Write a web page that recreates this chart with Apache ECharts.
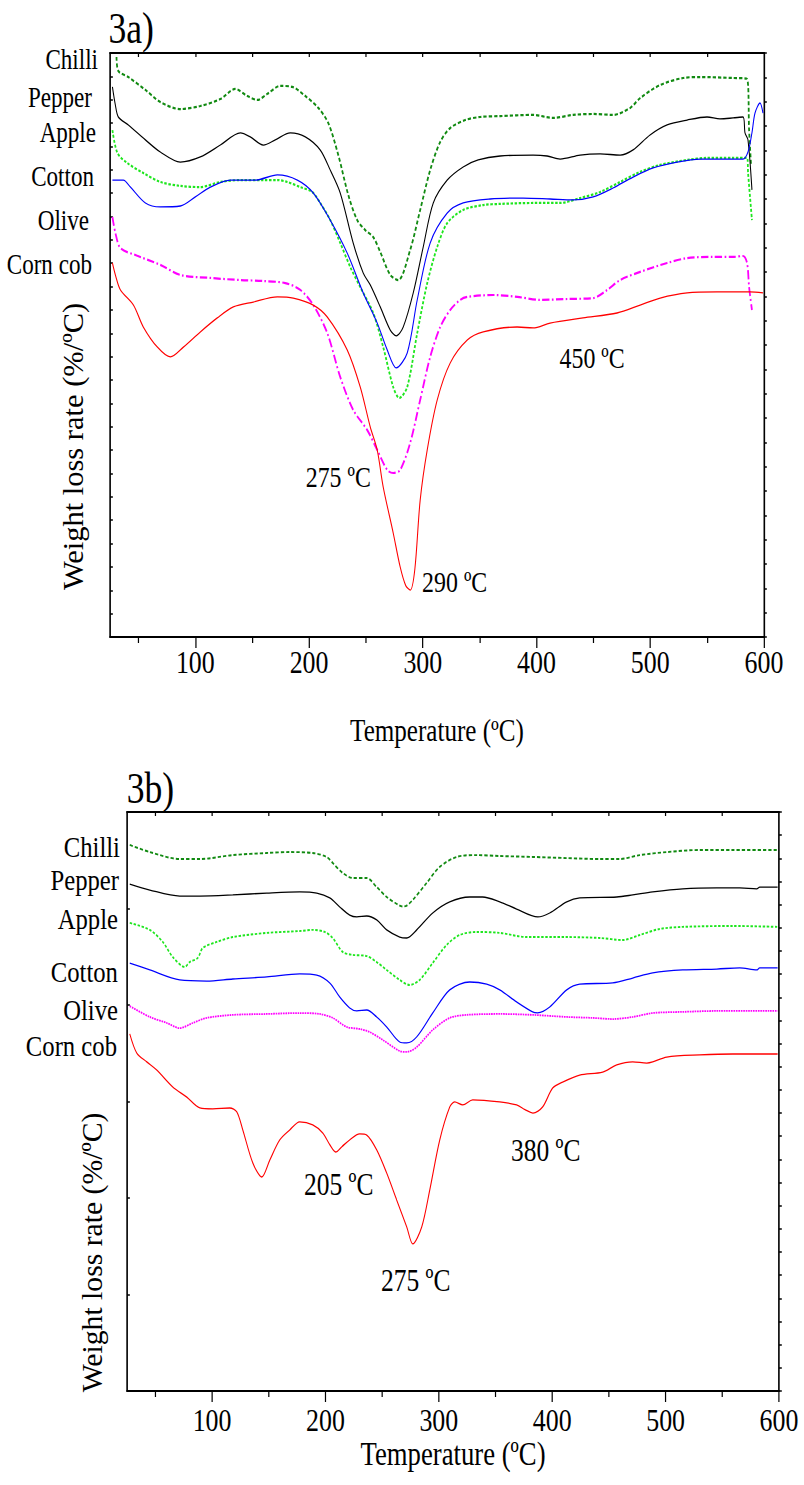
<!DOCTYPE html>
<html>
<head>
<meta charset="utf-8">
<script src="https://cdn.jsdelivr.net/npm/echarts@6/dist/echarts.min.js"></script>
<style>
html,body{margin:0;padding:0;background:#fff;}
#frame{width:804px;height:1485px;overflow:hidden;}
/* the figure's lettering is a narrow serif: draw wide, then compress horizontally */
#chart{width:993px;height:1485px;transform:scaleX(0.809668);transform-origin:0 0;}
</style>
</head>
<body>
<div id="frame"><div id="chart"></div></div>
<script>
// ---- data -------------------------------------------------------------
const samples = ['Chilli', 'Pepper', 'Apple', 'Cotton', 'Olive', 'Corn cob'];
const tempLabels = [100, 200, 300, 400, 500, 600];
const tempMinor = [50, 150, 250, 350, 450, 550];
const tempTop = [50, 100, 150, 200, 250, 300, 350, 400, 450, 500, 550];

// 3a) DTG curves, [temperature °C, offset weight loss rate]
const chilliA = [[30.7,24.83],[32.3,24.23],[41.1,23.97],[56.1,23.42],[69.2,22.90],[86.8,22.60],[104.4,22.73],[122.0,23.03],[135.1,23.46],[145.7,23.16],[154.5,22.99],[163.3,23.25],[174.7,23.59],[185.2,23.55],[196.7,23.16],[208.1,22.65],[216.9,22.00],[225.7,20.63],[234.5,18.92],[242.3,17.85],[249.4,17.42],[256.4,17.12],[262.6,16.48],[271.4,15.50],[278.4,15.28],[288.9,16.57],[297.7,18.28],[306.5,19.99],[315.3,21.19],[324.1,21.79],[337.3,22.13],[350.4,22.26],[368.0,22.30],[397.0,22.35],[414.6,22.22],[432.2,22.35],[449.8,22.39],[467.3,22.35],[482.3,22.65],[491.1,23.07],[508.7,23.63],[528.9,23.93],[543.8,23.97],[572.8,23.93],[585.1,23.89],[586.9,21.70],[588.6,20.21]];
const pepperA = [[27.1,23.55],[29.7,22.77],[32.3,22.26],[41.1,21.92],[56.1,21.28],[69.2,20.76],[86.8,20.33],[104.4,20.55],[122.0,21.06],[139.6,21.58],[148.3,21.41],[159.8,21.06],[170.3,21.28],[183.5,21.58],[196.7,21.41],[209.8,20.85],[218.6,19.99],[227.4,19.01],[238.8,16.87],[247.6,15.58],[253.8,15.07],[262.6,14.13],[271.4,13.14],[276.7,12.89],[282.8,13.27],[291.6,14.73],[300.4,16.70],[309.2,18.58],[321.5,19.56],[335.5,20.12],[348.7,20.42],[368.0,20.59],[397.0,20.63],[409.3,20.59],[420.7,20.46],[438.3,20.63],[455.9,20.68],[473.5,20.63],[484.9,20.85],[499.8,21.49],[514.8,21.92],[532.4,22.13],[549.9,22.26],[561.3,22.18],[572.8,22.22],[581.5,22.26],[583.3,21.58],[585.9,21.28],[589.4,19.14]];
const appleA = [[27.1,21.70],[31.5,20.72],[40.2,20.29],[54.3,19.86],[69.2,19.48],[86.8,19.31],[104.4,19.26],[122.0,19.48],[139.6,19.56],[159.8,19.56],[172.1,19.56],[180.8,19.48],[192.3,19.26],[202.8,19.05],[209.8,18.58],[218.6,17.85],[227.4,16.87],[236.2,15.84],[245.0,14.98],[256.4,13.87],[265.2,12.41],[274.0,10.70],[279.3,10.23],[286.3,10.70],[295.1,13.01],[303.9,15.15],[312.7,16.70],[321.5,17.72],[335.5,18.28],[353.1,18.49],[368.0,18.54],[397.0,18.58],[420.7,18.58],[438.3,18.79],[455.9,19.05],[473.5,19.48],[491.1,19.91],[508.7,20.21],[532.4,20.42],[549.9,20.51],[572.8,20.51],[585.1,20.51],[586.0,19.86],[589.4,17.85]];
const cottonA = [[27.1,19.56],[36.7,19.56],[42.9,19.26],[56.1,18.58],[69.2,18.41],[86.8,18.45],[100.0,18.84],[113.2,19.26],[130.8,19.56],[152.8,19.56],[172.1,19.78],[189.7,19.56],[203.7,19.01],[218.6,17.85],[233.5,16.44],[247.6,14.73],[259.9,13.44],[268.7,12.29],[276.6,11.52],[286.3,12.16],[295.1,14.43],[306.5,16.87],[321.5,18.15],[335.5,18.58],[359.2,18.75],[388.2,18.79],[411.9,18.75],[432.2,18.71],[449.8,18.84],[467.3,19.22],[484.9,19.69],[502.5,20.08],[523.6,20.33],[543.8,20.46],[572.8,20.46],[581.5,20.46],[585.9,20.76],[589.4,21.58],[592.1,22.43],[596.5,22.86],[599.1,22.43]];
const oliveA = [[27.1,17.98],[29.7,17.30],[34.1,16.65],[47.3,16.35],[69.2,15.93],[86.8,15.50],[113.2,15.37],[139.6,15.28],[159.8,15.24],[179.1,15.15],[192.3,14.86],[203.7,14.21],[216.0,13.01],[227.4,11.13],[238.8,9.72],[251.1,8.86],[259.9,8.01],[268.7,7.15],[274.0,7.02],[280.1,7.15],[288.9,8.31],[297.7,10.15],[306.5,11.99],[315.3,13.27],[324.1,14.00],[332.9,14.43],[339.1,14.56],[361.9,14.64],[383.1,14.56],[403.3,14.43],[427.0,14.47],[449.8,14.51],[462.2,14.86],[473.5,15.28],[491.1,15.63],[514.8,16.01],[532.4,16.22],[555.2,16.27],[572.8,16.27],[581.5,16.31],[585.1,16.01],[586.9,14.98],[589.4,14.00]];
const cornA = [[27.1,16.01],[29.7,15.50],[34.1,14.86],[45.6,14.21],[54.3,13.27],[66.6,12.41],[78.0,11.99],[89.5,12.41],[104.4,13.06],[119.3,13.66],[133.4,14.13],[151.0,14.34],[172.1,14.56],[186.1,14.51],[203.7,14.21],[216.0,13.70],[233.5,12.29],[245.0,10.70],[253.8,8.99],[259.9,8.01],[265.2,6.42],[274.0,4.45],[280.1,3.00],[285.0,2.20],[289.0,2.01],[293.0,2.90],[297.7,5.86],[303.9,8.01],[312.7,10.15],[324.1,11.73],[339.1,12.71],[353.1,13.06],[382.9,13.27],[397.0,13.23],[411.9,13.44],[440.9,13.66],[470.8,13.87],[491.1,14.21],[508.7,14.51],[532.4,14.73],[558.7,14.77],[587.7,14.77],[599.1,14.73]];

// 3b) DTG curves
const chilliB = [[27.4,23.58],[45.1,23.27],[71.5,22.97],[89.2,22.97],[118.3,23.14],[148.3,23.23],[168.5,23.27],[188.8,23.23],[201.1,23.06],[206.4,22.80],[215.2,22.37],[224.0,22.15],[236.4,22.15],[245.2,21.76],[254.0,21.33],[265.5,20.96],[268.6,20.92],[271.7,20.96],[277.0,21.20],[289.3,21.94],[300.8,22.63],[315.8,23.06],[333.4,23.14],[353.7,23.10],[382.8,23.06],[412.8,23.01],[441.9,22.97],[459.5,22.97],[477.2,23.14],[501.0,23.27],[530.1,23.36],[559.2,23.36],[598.8,23.36]];
const pepperB = [[27.4,21.89],[45.1,21.63],[71.5,21.37],[89.2,21.37],[118.3,21.42],[148.3,21.50],[177.4,21.55],[192.3,21.50],[203.8,21.29],[212.6,20.90],[221.4,20.55],[227.6,20.47],[236.4,20.51],[245.2,20.34],[254.0,19.91],[265.5,19.60],[271.7,19.56],[280.5,19.91],[294.6,20.64],[309.6,21.12],[327.2,21.33],[338.6,21.33],[353.7,21.12],[368.6,20.81],[387.2,20.47],[397.8,20.64],[412.8,21.12],[424.3,21.29],[456.9,21.33],[471.0,21.42],[488.6,21.55],[515.1,21.68],[545.1,21.72],[565.4,21.72],[580.4,21.68],[583.0,21.76],[598.8,21.76]];
const appleB = [[27.4,20.21],[45.1,19.91],[56.5,19.39],[65.3,18.74],[75.9,18.31],[80.3,18.52],[87.4,18.70],[91.8,19.13],[104.1,19.39],[118.3,19.60],[148.3,19.78],[177.4,19.86],[188.8,19.91],[199.4,19.82],[206.4,19.56],[215.2,18.96],[224.0,18.83],[236.4,18.78],[245.2,18.52],[254.0,18.18],[265.5,17.75],[274.3,17.53],[283.1,17.75],[294.6,18.48],[306.9,19.26],[318.4,19.69],[333.4,19.82],[353.7,19.78],[377.5,19.60],[412.8,19.60],[441.9,19.56],[462.2,19.47],[477.2,19.69],[494.8,19.95],[515.1,20.04],[559.2,20.08],[598.8,20.04]];
const cottonB = [[27.4,18.48],[45.1,18.18],[71.5,17.75],[95.3,17.70],[118.3,17.79],[148.3,17.88],[177.4,18.01],[192.3,17.96],[203.8,17.62],[212.6,17.01],[221.4,16.54],[227.6,16.41],[236.4,16.45],[245.2,16.15],[254.0,15.72],[265.5,15.07],[271.7,15.03],[280.5,15.29],[294.6,16.32],[309.6,17.32],[327.2,17.66],[342.2,17.57],[353.7,17.32],[368.6,16.80],[382.7,16.37],[387.2,16.33],[397.8,16.58],[412.8,17.32],[424.3,17.57],[453.4,17.62],[471.0,17.83],[488.6,18.05],[515.1,18.18],[545.1,18.22],[565.4,18.27],[580.4,18.18],[583.0,18.27],[598.8,18.27]];
const oliveB = [[27.4,16.62],[45.1,16.15],[60.1,15.89],[71.5,15.67],[83.0,15.89],[95.3,16.11],[118.3,16.24],[148.3,16.28],[177.4,16.32],[195.0,16.28],[206.4,16.11],[218.7,15.72],[230.2,15.63],[239.0,15.50],[250.5,15.16],[265.5,14.68],[271.7,14.64],[280.5,14.85],[294.6,15.59],[309.6,16.11],[324.6,16.24],[353.7,16.28],[382.8,16.24],[412.8,16.15],[435.7,16.11],[453.4,16.06],[471.0,16.15],[488.6,16.32],[515.1,16.37],[545.1,16.41],[598.8,16.41]];
const cornB = [[27.4,15.42],[33.6,14.59],[42.4,14.21],[51.2,13.86],[65.3,13.13],[77.7,12.69],[89.2,12.22],[100.6,12.18],[115.6,12.22],[121.8,12.05],[127.1,11.27],[135.9,9.85],[143.8,9.24],[150.9,9.97],[159.7,10.84],[168.5,11.27],[177.3,11.62],[188.8,11.49],[197.6,11.14],[204.0,10.62],[209.0,10.32],[214.5,10.55],[221.3,10.84],[230.2,11.10],[236.4,11.05],[245.2,10.41],[254.0,9.41],[262.8,8.25],[271.7,7.08],[277.0,6.35],[284.9,7.08],[292.0,8.68],[300.8,10.84],[309.6,12.26],[314.0,12.48],[321.1,12.35],[329.9,12.57],[353.7,12.48],[368.6,12.35],[376.0,12.15],[383.0,12.00],[391.5,12.26],[400.4,13.08],[409.2,13.34],[424.2,13.64],[444.5,13.77],[456.9,14.08],[471.0,14.21],[483.4,14.16],[488.6,14.21],[501.0,14.42],[530.1,14.51],[559.2,14.55],[598.8,14.55]];

// peak temperatures marked on the curves
const peakTextA = ['275 ºC', '290 ºC', '450 ºC'];
const peakAtA = [[274.0, 7.02], [289.0, 2.01], [450.0, 13.72]];
const peakTextB = ['205 ºC', '275 ºC', '380 ºC'];
const peakAtB = [[209.0, 10.32], [277.0, 6.35], [383.0, 12.00]];

// ---- layout & style ---------------------------------------------------
const FONT = "'Liberation Serif', 'Times New Roman', serif";
const BLACK = '#000';
const styles = [
  { color: '#118a11', width: 2.2, type: [4, 2.5] },   // Chilli
  { color: '#000000', width: 1.3, type: 'solid' },    // Pepper
  { color: '#1ee61e', width: 2.2, type: [3, 2] },     // Apple
  { color: '#0000ff', width: 1.3, type: 'solid' },    // Cotton
  { color: '#ff00ff', width: 2.2, type: [9, 3, 2, 3] }, // Olive
  { color: '#ff0000', width: 1.3, type: 'solid' }     // Corn cob
];
const stylesB = styles.map((s, i) => i === 4 ? { color: '#ff00ff', width: 1.8, type: [2, 1] } :
  (i === 0 || i === 2) ? Object.assign({}, s, { width: 1.9 }) : s);

const grids = [
  { left: 135.9, top: 53, width: 807.7, height: 584 },
  { left: 156.9, top: 812, width: 805.2, height: 579 }
];

function bottomAxis(g, nameGap, nameSize) {
  return [{
    type: 'value', gridIndex: g, position: 'bottom', min: 25, max: 600,
    name: 'Temperature (ºC)', nameLocation: 'middle', nameGap: nameGap,
    nameTextStyle: { fontFamily: FONT, fontSize: nameSize, color: BLACK, verticalAlign: 'middle' },
    axisLine: { show: true, onZero: false, lineStyle: { color: BLACK, width: 2 } },
    axisTick: { show: true, customValues: tempLabels, length: 11, inside: false, lineStyle: { color: BLACK, width: 1.5 } },
    axisLabel: { show: true, customValues: tempLabels, fontFamily: FONT, fontSize: 32, color: BLACK, margin: g === 0 ? 9 : 13 },
    splitLine: { show: false }
  }, {
    type: 'value', gridIndex: g, position: 'bottom', min: 25, max: 600,
    axisLine: { show: false },
    axisTick: { show: true, customValues: tempMinor, length: 6, inside: false, lineStyle: { color: BLACK, width: 1.5 } },
    axisLabel: { show: false }, splitLine: { show: false }
  }, {
    type: 'value', gridIndex: g, position: 'top', min: 25, max: 600,
    axisLine: { show: true, onZero: false, lineStyle: { color: BLACK, width: 2 } },
    axisTick: { show: true, customValues: tempTop, length: 4, inside: true, lineStyle: { color: BLACK, width: 1.5 } },
    axisLabel: { show: false }, splitLine: { show: false }
  }];
}

function sideAxis(g, pos, max, tick, inside, line) {
  return {
    type: 'value', gridIndex: g, position: pos, min: 0, max: max, interval: 1,
    axisLine: { show: line, onZero: false, lineStyle: { color: BLACK, width: 2 } },
    axisTick: { show: tick, inside: inside, length: 3.5, lineStyle: { color: BLACK, width: 1.5 } },
    axisLabel: { show: false }, splitLine: { show: false }
  };
}

const xAxis = bottomAxis(0, 94, 31).concat(bottomAxis(1, 62, 33));
const yAxis = [
  sideAxis(0, 'left', 25, true, true, true),    // 0: 3a values
  sideAxis(0, 'right', 24, true, false, true),  // 1: 3a right frame
  sideAxis(1, 'left', 25, false, true, true),   // 2: 3b values
  sideAxis(1, 'left', 6, true, true, false),    // 3: 3b left ticks
  sideAxis(1, 'right', 25, true, false, true)   // 4: 3b right frame
];

function curve(name, data, xi, yi, st, marks, markSize) {
  const s = {
    type: 'line', name: name, data: data, xAxisIndex: xi, yAxisIndex: yi,
    symbol: 'none', showSymbol: false, smooth: 0.3, silent: true,
    lineStyle: { color: st.color, width: st.width, type: st.type },
    emphasis: { disabled: true }, animation: false
  };
  if (marks) {
    s.markPoint = {
      symbol: 'circle', symbolSize: 0, silent: true, animation: false,
      itemStyle: { color: 'transparent' },
      label: { show: true, position: 'inside', formatter: '{b}', color: BLACK, fontFamily: FONT, fontSize: markSize },
      data: marks
    };
  }
  return s;
}

const seriesA = [chilliA, pepperA, appleA, cottonA, oliveA, cornA];
const seriesB = [chilliB, pepperB, appleB, cottonB, oliveB, cornB];

// label offsets from each marked point
const offA = [[-67.9, 4], [54.8, -8], [-1.6, 42]];
const offB = [[3.8, 32], [3.7, 36], [15.8, 37]];
const marksA = {
  4: [{ name: peakTextA[0], coord: peakAtA[0], label: { offset: offA[0] } }],
  5: [{ name: peakTextA[1], coord: peakAtA[1], label: { offset: offA[1] } },
      { name: peakTextA[2], coord: peakAtA[2], label: { offset: offA[2] } }]
};
const marksB = {
  5: peakTextB.map((t, i) => ({ name: t, coord: peakAtB[i], label: { offset: offB[i] } }))
};

const series = [];
seriesA.forEach((d, i) => series.push(curve(samples[i] + ' (3a)', d, 0, 0, styles[i], marksA[i], 29.5)));
seriesB.forEach((d, i) => series.push(curve(samples[i] + ' (3b)', d, 3, 2, stylesB[i], marksB[i], 31.5)));

// panel captions, sample names, rotated axis titles
const namePosA = [[121, 60], [113.6, 97.5], [118.6, 133], [116.1, 176.5], [109.9, 221], [113.6, 264.5]];
const namePosB = [[148.2, 847], [147, 880], [145.7, 919], [145.7, 972], [145.7, 1010], [144.5, 1046]];
const UNSQUEEZE = 993 / 804;

function label(text, x, y, size, align, extra) {
  return Object.assign({
    type: 'text', x: x, y: y, silent: true,
    style: { text: text, fill: BLACK, font: size + 'px ' + FONT, fontSize: size, fontFamily: FONT,
      align: align, textAlign: align, verticalAlign: 'middle', textVerticalAlign: 'middle' }
  }, extra || {});
}

const graphic = [
  label('3a)', 134, 28, 44, 'left'),
  label('3b)', 156.4, 788, 44, 'left'),
  label('Weight loss rate (%/ºC)', 90.2, 446.5, 30.5, 'center', { rotation: Math.PI / 2, scaleY: UNSQUEEZE }),
  label('Weight loss rate (%/ºC)', 113.6, 1252.5, 29.7, 'center', { rotation: Math.PI / 2, scaleY: UNSQUEEZE })
];
samples.forEach((s, i) => graphic.push(label(s, namePosA[i][0], namePosA[i][1], 28.5, 'right')));
samples.forEach((s, i) => graphic.push(label(s, namePosB[i][0], namePosB[i][1], 30.5, 'right')));

const chart = echarts.init(document.getElementById('chart'), null, { renderer: 'svg' });
chart.setOption({
  backgroundColor: '#fff',
  animation: false,
  grid: grids,
  xAxis: xAxis,
  yAxis: yAxis,
  series: series,
  graphic: graphic
});
</script>
</body>
</html>
